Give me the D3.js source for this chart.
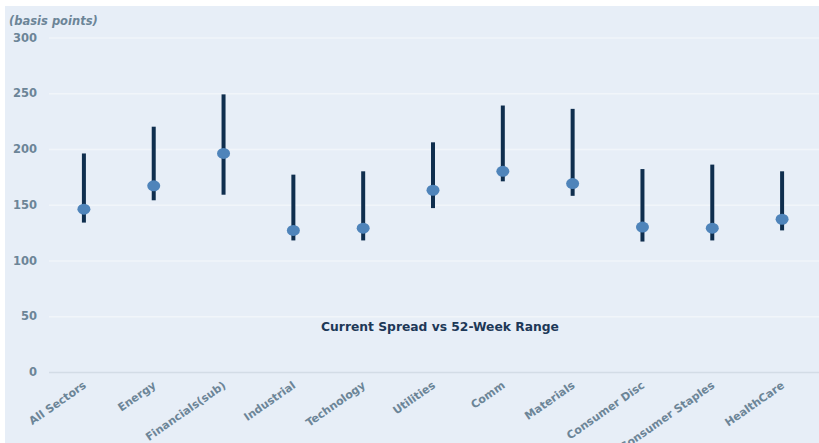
<!DOCTYPE html>
<html>
<head>
<meta charset="utf-8">
<script src="https://cdn.jsdelivr.net/npm/d3@7"></script>
<style>
  html, body { margin: 0; padding: 0; background: #ffffff; }
  svg { display: block; }
</style>
</head>
<body>
<svg id="chart" width="819" height="443"></svg>
<script>
// Sector spreads: 52-week low / high and current level, in basis points
const sectors = ["All Sectors", "Energy", "Financials(sub)", "Industrial", "Technology",
  "Utilities", "Comm", "Materials", "Consumer Disc", "Consumer Staples", "HealthCare"];
const lows    = [134, 154, 159, 118, 118, 147, 171, 158, 117, 118, 127];
const highs   = [196, 220, 249, 177, 180, 206, 239, 236, 182, 186, 180];
const current = [146, 167, 196, 127, 129, 163, 180, 169, 130, 129, 137];
const yTicks  = [0, 50, 100, 150, 200, 250, 300];

const W = 819, H = 443;
const textColor = "#6c8597";
const font = "'DejaVu Sans', Verdana, sans-serif";

const svg = d3.select("#chart");

// panel background
svg.append("rect")
  .attr("x", 5).attr("y", 6)
  .attr("width", W - 5).attr("height", H - 6)
  .attr("fill", "#e7eef7");

const x = d3.scaleBand().domain(sectors).range([49, 817]);
const y = d3.scaleLinear().domain([0, 300]).range([372, 37.5]);

// horizontal gridlines + value labels
const yAxis = svg.append("g").attr("transform", "translate(49,0)")
  .call(d3.axisLeft(y).tickValues(yTicks).tickSize(-(W - 49)).tickPadding(12));
yAxis.select(".domain").remove();
yAxis.selectAll(".tick line")
  .attr("stroke", d => d === 0 ? "#d3dce6" : "#f1f5fa")
  .attr("stroke-width", 1.5);
yAxis.selectAll(".tick text")
  .attr("fill", textColor)
  .style("font-family", font)
  .style("font-weight", "bold")
  .style("font-size", "11.5px");

svg.append("text")
  .attr("x", 9).attr("y", 25)
  .attr("fill", textColor)
  .style("font-family", font)
  .style("font-weight", "bold")
  .style("font-style", "italic")
  .style("font-size", "11.5px")
  .text("(basis points)");

// category labels
const xAxis = svg.append("g").attr("transform", "translate(0,372)")
  .call(d3.axisBottom(x).tickSize(0).tickPadding(0));
xAxis.select(".domain").remove();
xAxis.selectAll(".tick text")
  .attr("fill", textColor)
  .attr("text-anchor", "end")
  .attr("dy", 0)
  .attr("transform", "translate(3,15) rotate(-35)")
  .style("font-family", font)
  .style("font-weight", "bold")
  .style("font-size", "11px");

const cx = d => x(d) + x.bandwidth() / 2;

// 52-week range bars
svg.append("g").selectAll("line")
  .data(sectors)
  .join("line")
  .attr("x1", cx).attr("x2", cx)
  .attr("y1", (d, i) => y(lows[i]))
  .attr("y2", (d, i) => y(highs[i]))
  .attr("stroke", "#0f2e4e")
  .attr("stroke-width", 4);

// current spread markers
svg.append("g").selectAll("ellipse")
  .data(sectors)
  .join("ellipse")
  .attr("cx", cx)
  .attr("cy", (d, i) => y(current[i]))
  .attr("rx", 6.5).attr("ry", 5.5)
  .attr("fill", "#4f84ba");

svg.append("text")
  .attr("x", 440).attr("y", 331)
  .attr("text-anchor", "middle")
  .attr("fill", "#1d3857")
  .style("font-family", font)
  .style("font-weight", "bold")
  .style("font-size", "12.3px")
  .text("Current Spread vs 52-Week Range");
</script>
</body>
</html>
